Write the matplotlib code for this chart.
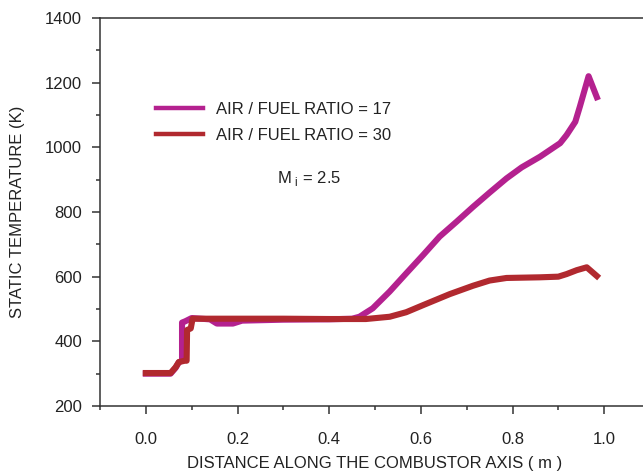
import matplotlib.pyplot as plt
from matplotlib.ticker import MultipleLocator

plt.rcParams["font.family"] = ["Liberation Sans", "DejaVu Sans"]
plt.rcParams["mathtext.fontset"] = "custom"
plt.rcParams["mathtext.rm"] = "Liberation Sans"

# air / fuel ratio = 17
x_afr17 = [0.0, 0.054, 0.065, 0.072, 0.079, 0.079, 0.086, 0.100, 0.140, 0.155,
           0.190, 0.210, 0.300, 0.400, 0.450, 0.466, 0.495, 0.532, 0.568, 0.605,
           0.641, 0.678, 0.714, 0.750, 0.787, 0.820, 0.860, 0.904, 0.918, 0.937,
           0.947, 0.966, 0.984]
t_afr17 = [300, 300, 318, 335, 340, 458, 462, 472, 468, 455,
           455, 464, 467, 468, 470, 476, 502, 554, 610, 667,
           724, 770, 816, 860, 904, 938, 971, 1013, 1038, 1079,
           1126, 1220, 1155]

# air / fuel ratio = 30
x_afr30 = [0.0, 0.054, 0.065, 0.072, 0.085, 0.089, 0.090, 0.098, 0.102, 0.200,
           0.300, 0.400, 0.480, 0.532, 0.568, 0.605, 0.663, 0.714, 0.750, 0.787,
           0.860, 0.900, 0.918, 0.940, 0.962, 0.984]
t_afr30 = [302, 302, 320, 336, 340, 340, 435, 440, 470, 470,
           470, 469, 469, 476, 490, 512, 546, 572, 588, 596,
           598, 600, 608, 620, 629, 602]

fig = plt.figure(figsize=(6.43, 4.73), dpi=100)
ax = fig.add_axes([100 / 643, 67 / 473, 550 / 643, 388 / 473])

ax.plot(x_afr17, t_afr17, color="#B4218F", lw=4.4, solid_joinstyle="round",
        label="AIR / FUEL RATIO = 17", zorder=2)
ax.plot(x_afr30, t_afr30, color="#B1292F", lw=4.4, solid_joinstyle="round",
        label="AIR / FUEL RATIO = 30", zorder=3)

ax.set_xlim(-0.1, 1.1)
ax.set_ylim(200, 1400)
ax.xaxis.set_major_locator(MultipleLocator(0.2))
ax.xaxis.set_minor_locator(MultipleLocator(0.1))
ax.yaxis.set_major_locator(MultipleLocator(200))
ax.yaxis.set_minor_locator(MultipleLocator(100))
ax.set_xticks([0.0, 0.2, 0.4, 0.6, 0.8, 1.0])
ax.set_xticklabels(["0.0", "0.2", "0.4", "0.6", "0.8", "1.0"])

for s in ax.spines.values():
    s.set_color("#333333")
    s.set_linewidth(1.1)
ax.tick_params(which="major", length=6, width=1.1, color="#333333",
               labelsize=12, labelcolor="#222222")
ax.tick_params(which="minor", length=3, width=1.1, color="#333333")
ax.tick_params(axis="x", which="major", pad=13)
ax.tick_params(axis="y", which="major", pad=7)

ax.set_xlabel("DISTANCE ALONG THE COMBUSTOR AXIS ( m )", fontsize=12,
              color="#222222", labelpad=6)
ax.set_ylabel("STATIC TEMPERATURE (K)", fontsize=12, color="#222222",
              labelpad=14)

leg = ax.legend(loc="upper left", bbox_to_anchor=(0.075, 0.822), frameon=False,
                fontsize=12, handlelength=2.8, handletextpad=0.8,
                labelspacing=0.65, labelcolor="#222222")
for h in leg.legend_handles:
    h.set_linewidth(3.2)

ax.text(0.287, 905, r"M$_\mathregular{\ i}$ = 2.5", fontsize=12,
        color="#222222", ha="left", va="center")

fig.savefig("out.png", dpi=100)
